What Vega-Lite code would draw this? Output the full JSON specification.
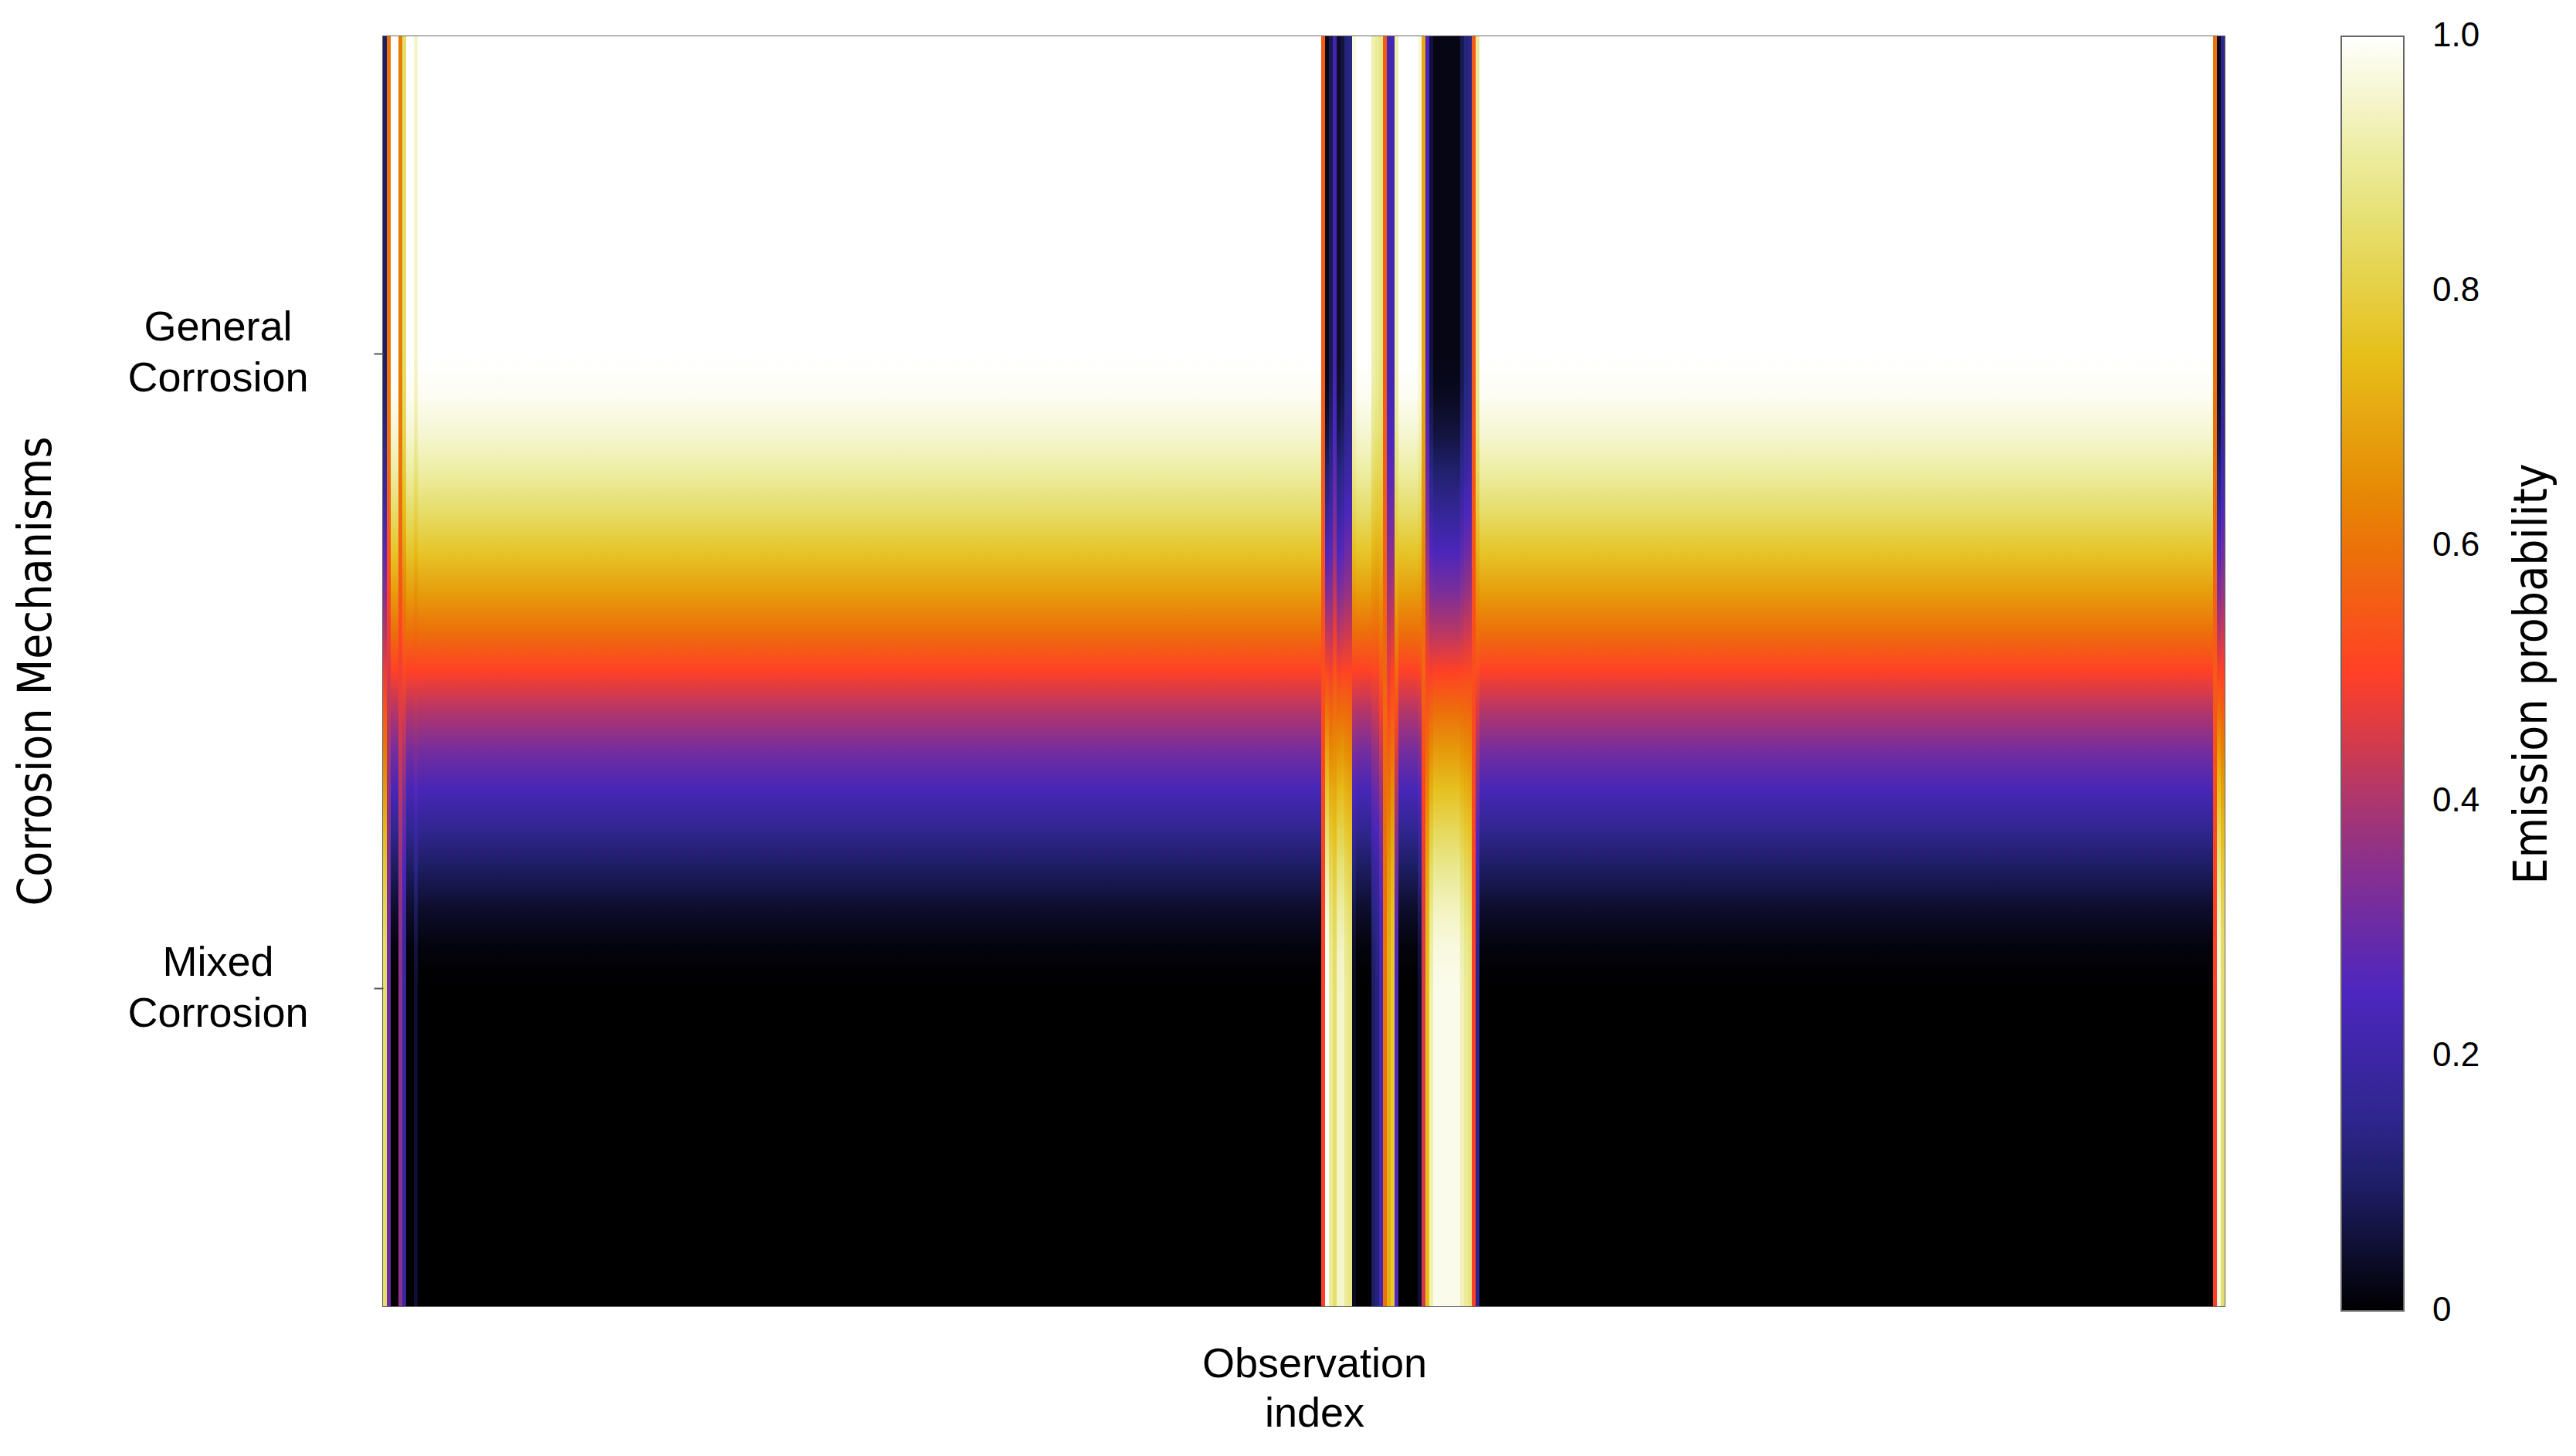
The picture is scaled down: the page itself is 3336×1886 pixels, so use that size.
{
"$schema": "https://vega.github.io/schema/vega-lite/v6.json",
"width": 2385,
"height": 1645,
"autosize": {"type": "none"},
"padding": {"left": 496, "top": 47, "right": 455, "bottom": 194},
"background": "white",
"config": {"view": {"stroke": "#666666", "strokeWidth": 2}, "font": "Liberation Sans", "legend": {"labelFlush": false}},
"data": {"values": [
{"i":0,"g":0.1,"m":0.85},{"i":1,"g":0.6,"m":0.3},{"i":2,"g":1,"m":0},{"i":3,"g":1,"m":0},{"i":4,"g":0.62,"m":0.35},{"i":5,"g":0.85,"m":0.18},{"i":6,"g":1,"m":0},{"i":7,"g":1,"m":0},{"i":8,"g":0.95,"m":0.05},{"i":9,"g":1,"m":0},
{"i":10,"g":1,"m":0},{"i":11,"g":1,"m":0},{"i":12,"g":1,"m":0},{"i":13,"g":1,"m":0},{"i":14,"g":1,"m":0},{"i":15,"g":1,"m":0},{"i":16,"g":1,"m":0},{"i":17,"g":1,"m":0},{"i":18,"g":1,"m":0},{"i":19,"g":1,"m":0},
{"i":20,"g":1,"m":0},{"i":21,"g":1,"m":0},{"i":22,"g":1,"m":0},{"i":23,"g":1,"m":0},{"i":24,"g":1,"m":0},{"i":25,"g":1,"m":0},{"i":26,"g":1,"m":0},{"i":27,"g":1,"m":0},{"i":28,"g":1,"m":0},{"i":29,"g":1,"m":0},
{"i":30,"g":1,"m":0},{"i":31,"g":1,"m":0},{"i":32,"g":1,"m":0},{"i":33,"g":1,"m":0},{"i":34,"g":1,"m":0},{"i":35,"g":1,"m":0},{"i":36,"g":1,"m":0},{"i":37,"g":1,"m":0},{"i":38,"g":1,"m":0},{"i":39,"g":1,"m":0},
{"i":40,"g":1,"m":0},{"i":41,"g":1,"m":0},{"i":42,"g":1,"m":0},{"i":43,"g":1,"m":0},{"i":44,"g":1,"m":0},{"i":45,"g":1,"m":0},{"i":46,"g":1,"m":0},{"i":47,"g":1,"m":0},{"i":48,"g":1,"m":0},{"i":49,"g":1,"m":0},
{"i":50,"g":1,"m":0},{"i":51,"g":1,"m":0},{"i":52,"g":1,"m":0},{"i":53,"g":1,"m":0},{"i":54,"g":1,"m":0},{"i":55,"g":1,"m":0},{"i":56,"g":1,"m":0},{"i":57,"g":1,"m":0},{"i":58,"g":1,"m":0},{"i":59,"g":1,"m":0},
{"i":60,"g":1,"m":0},{"i":61,"g":1,"m":0},{"i":62,"g":1,"m":0},{"i":63,"g":1,"m":0},{"i":64,"g":1,"m":0},{"i":65,"g":1,"m":0},{"i":66,"g":1,"m":0},{"i":67,"g":1,"m":0},{"i":68,"g":1,"m":0},{"i":69,"g":1,"m":0},
{"i":70,"g":1,"m":0},{"i":71,"g":1,"m":0},{"i":72,"g":1,"m":0},{"i":73,"g":1,"m":0},{"i":74,"g":1,"m":0},{"i":75,"g":1,"m":0},{"i":76,"g":1,"m":0},{"i":77,"g":1,"m":0},{"i":78,"g":1,"m":0},{"i":79,"g":1,"m":0},
{"i":80,"g":1,"m":0},{"i":81,"g":1,"m":0},{"i":82,"g":1,"m":0},{"i":83,"g":1,"m":0},{"i":84,"g":1,"m":0},{"i":85,"g":1,"m":0},{"i":86,"g":1,"m":0},{"i":87,"g":1,"m":0},{"i":88,"g":1,"m":0},{"i":89,"g":1,"m":0},
{"i":90,"g":1,"m":0},{"i":91,"g":1,"m":0},{"i":92,"g":1,"m":0},{"i":93,"g":1,"m":0},{"i":94,"g":1,"m":0},{"i":95,"g":1,"m":0},{"i":96,"g":1,"m":0},{"i":97,"g":1,"m":0},{"i":98,"g":1,"m":0},{"i":99,"g":1,"m":0},
{"i":100,"g":1,"m":0},{"i":101,"g":1,"m":0},{"i":102,"g":1,"m":0},{"i":103,"g":1,"m":0},{"i":104,"g":1,"m":0},{"i":105,"g":1,"m":0},{"i":106,"g":1,"m":0},{"i":107,"g":1,"m":0},{"i":108,"g":1,"m":0},{"i":109,"g":1,"m":0},
{"i":110,"g":1,"m":0},{"i":111,"g":1,"m":0},{"i":112,"g":1,"m":0},{"i":113,"g":1,"m":0},{"i":114,"g":1,"m":0},{"i":115,"g":1,"m":0},{"i":116,"g":1,"m":0},{"i":117,"g":1,"m":0},{"i":118,"g":1,"m":0},{"i":119,"g":1,"m":0},
{"i":120,"g":1,"m":0},{"i":121,"g":1,"m":0},{"i":122,"g":1,"m":0},{"i":123,"g":1,"m":0},{"i":124,"g":1,"m":0},{"i":125,"g":1,"m":0},{"i":126,"g":1,"m":0},{"i":127,"g":1,"m":0},{"i":128,"g":1,"m":0},{"i":129,"g":1,"m":0},
{"i":130,"g":1,"m":0},{"i":131,"g":1,"m":0},{"i":132,"g":1,"m":0},{"i":133,"g":1,"m":0},{"i":134,"g":1,"m":0},{"i":135,"g":1,"m":0},{"i":136,"g":1,"m":0},{"i":137,"g":1,"m":0},{"i":138,"g":1,"m":0},{"i":139,"g":1,"m":0},
{"i":140,"g":1,"m":0},{"i":141,"g":1,"m":0},{"i":142,"g":1,"m":0},{"i":143,"g":1,"m":0},{"i":144,"g":1,"m":0},{"i":145,"g":1,"m":0},{"i":146,"g":1,"m":0},{"i":147,"g":1,"m":0},{"i":148,"g":1,"m":0},{"i":149,"g":1,"m":0},
{"i":150,"g":1,"m":0},{"i":151,"g":1,"m":0},{"i":152,"g":1,"m":0},{"i":153,"g":1,"m":0},{"i":154,"g":1,"m":0},{"i":155,"g":1,"m":0},{"i":156,"g":1,"m":0},{"i":157,"g":1,"m":0},{"i":158,"g":1,"m":0},{"i":159,"g":1,"m":0},
{"i":160,"g":1,"m":0},{"i":161,"g":1,"m":0},{"i":162,"g":1,"m":0},{"i":163,"g":1,"m":0},{"i":164,"g":1,"m":0},{"i":165,"g":1,"m":0},{"i":166,"g":1,"m":0},{"i":167,"g":1,"m":0},{"i":168,"g":1,"m":0},{"i":169,"g":1,"m":0},
{"i":170,"g":1,"m":0},{"i":171,"g":1,"m":0},{"i":172,"g":1,"m":0},{"i":173,"g":1,"m":0},{"i":174,"g":1,"m":0},{"i":175,"g":1,"m":0},{"i":176,"g":1,"m":0},{"i":177,"g":1,"m":0},{"i":178,"g":1,"m":0},{"i":179,"g":1,"m":0},
{"i":180,"g":1,"m":0},{"i":181,"g":1,"m":0},{"i":182,"g":1,"m":0},{"i":183,"g":1,"m":0},{"i":184,"g":1,"m":0},{"i":185,"g":1,"m":0},{"i":186,"g":1,"m":0},{"i":187,"g":1,"m":0},{"i":188,"g":1,"m":0},{"i":189,"g":1,"m":0},
{"i":190,"g":1,"m":0},{"i":191,"g":1,"m":0},{"i":192,"g":1,"m":0},{"i":193,"g":1,"m":0},{"i":194,"g":1,"m":0},{"i":195,"g":1,"m":0},{"i":196,"g":1,"m":0},{"i":197,"g":1,"m":0},{"i":198,"g":1,"m":0},{"i":199,"g":1,"m":0},
{"i":200,"g":1,"m":0},{"i":201,"g":1,"m":0},{"i":202,"g":1,"m":0},{"i":203,"g":1,"m":0},{"i":204,"g":1,"m":0},{"i":205,"g":1,"m":0},{"i":206,"g":1,"m":0},{"i":207,"g":1,"m":0},{"i":208,"g":1,"m":0},{"i":209,"g":1,"m":0},
{"i":210,"g":1,"m":0},{"i":211,"g":1,"m":0},{"i":212,"g":1,"m":0},{"i":213,"g":1,"m":0},{"i":214,"g":1,"m":0},{"i":215,"g":1,"m":0},{"i":216,"g":1,"m":0},{"i":217,"g":1,"m":0},{"i":218,"g":1,"m":0},{"i":219,"g":1,"m":0},
{"i":220,"g":1,"m":0},{"i":221,"g":1,"m":0},{"i":222,"g":1,"m":0},{"i":223,"g":1,"m":0},{"i":224,"g":1,"m":0},{"i":225,"g":1,"m":0},{"i":226,"g":1,"m":0},{"i":227,"g":1,"m":0},{"i":228,"g":1,"m":0},{"i":229,"g":1,"m":0},
{"i":230,"g":1,"m":0},{"i":231,"g":1,"m":0},{"i":232,"g":1,"m":0},{"i":233,"g":1,"m":0},{"i":234,"g":1,"m":0},{"i":235,"g":1,"m":0},{"i":236,"g":1,"m":0},{"i":237,"g":1,"m":0},{"i":238,"g":1,"m":0},{"i":239,"g":1,"m":0},
{"i":240,"g":1,"m":0},{"i":241,"g":1,"m":0},{"i":242,"g":1,"m":0},{"i":243,"g":0.55,"m":0.5},{"i":244,"g":0.02,"m":1},{"i":245,"g":0.08,"m":0.9},{"i":246,"g":0.22,"m":0.85},{"i":247,"g":0.04,"m":0.95},{"i":248,"g":0.06,"m":0.95},{"i":249,"g":0.12,"m":0.9},
{"i":250,"g":0.13,"m":0.88},{"i":251,"g":0.97,"m":0.03},{"i":252,"g":1,"m":0},{"i":253,"g":1,"m":0},{"i":254,"g":1,"m":0},{"i":255,"g":1,"m":0},{"i":256,"g":0.92,"m":0.1},{"i":257,"g":0.9,"m":0.12},{"i":258,"g":0.88,"m":0.22},{"i":259,"g":0.55,"m":0.6},
{"i":260,"g":0.22,"m":0.72},{"i":261,"g":0.22,"m":0.78},{"i":262,"g":0.92,"m":0.25},{"i":263,"g":1,"m":0},{"i":264,"g":1,"m":0},{"i":265,"g":1,"m":0},{"i":266,"g":1,"m":0},{"i":267,"g":1,"m":0},{"i":268,"g":0.97,"m":0.05},{"i":269,"g":0.7,"m":0.45},
{"i":270,"g":0.25,"m":0.75},{"i":271,"g":0.06,"m":0.92},{"i":272,"g":0.02,"m":0.98},{"i":273,"g":0.02,"m":0.98},{"i":274,"g":0.02,"m":0.98},{"i":275,"g":0.02,"m":0.98},{"i":276,"g":0.02,"m":0.98},{"i":277,"g":0.02,"m":0.98},{"i":278,"g":0.02,"m":0.98},{"i":279,"g":0.08,"m":0.93},
{"i":280,"g":0.12,"m":0.9},{"i":281,"g":0.14,"m":0.88},{"i":282,"g":0.55,"m":0.5},{"i":283,"g":0.9,"m":0.15},{"i":284,"g":1,"m":0},{"i":285,"g":1,"m":0},{"i":286,"g":1,"m":0},{"i":287,"g":1,"m":0},{"i":288,"g":1,"m":0},{"i":289,"g":1,"m":0},
{"i":290,"g":1,"m":0},{"i":291,"g":1,"m":0},{"i":292,"g":1,"m":0},{"i":293,"g":1,"m":0},{"i":294,"g":1,"m":0},{"i":295,"g":1,"m":0},{"i":296,"g":1,"m":0},{"i":297,"g":1,"m":0},{"i":298,"g":1,"m":0},{"i":299,"g":1,"m":0},
{"i":300,"g":1,"m":0},{"i":301,"g":1,"m":0},{"i":302,"g":1,"m":0},{"i":303,"g":1,"m":0},{"i":304,"g":1,"m":0},{"i":305,"g":1,"m":0},{"i":306,"g":1,"m":0},{"i":307,"g":1,"m":0},{"i":308,"g":1,"m":0},{"i":309,"g":1,"m":0},
{"i":310,"g":1,"m":0},{"i":311,"g":1,"m":0},{"i":312,"g":1,"m":0},{"i":313,"g":1,"m":0},{"i":314,"g":1,"m":0},{"i":315,"g":1,"m":0},{"i":316,"g":1,"m":0},{"i":317,"g":1,"m":0},{"i":318,"g":1,"m":0},{"i":319,"g":1,"m":0},
{"i":320,"g":1,"m":0},{"i":321,"g":1,"m":0},{"i":322,"g":1,"m":0},{"i":323,"g":1,"m":0},{"i":324,"g":1,"m":0},{"i":325,"g":1,"m":0},{"i":326,"g":1,"m":0},{"i":327,"g":1,"m":0},{"i":328,"g":1,"m":0},{"i":329,"g":1,"m":0},
{"i":330,"g":1,"m":0},{"i":331,"g":1,"m":0},{"i":332,"g":1,"m":0},{"i":333,"g":1,"m":0},{"i":334,"g":1,"m":0},{"i":335,"g":1,"m":0},{"i":336,"g":1,"m":0},{"i":337,"g":1,"m":0},{"i":338,"g":1,"m":0},{"i":339,"g":1,"m":0},
{"i":340,"g":1,"m":0},{"i":341,"g":1,"m":0},{"i":342,"g":1,"m":0},{"i":343,"g":1,"m":0},{"i":344,"g":1,"m":0},{"i":345,"g":1,"m":0},{"i":346,"g":1,"m":0},{"i":347,"g":1,"m":0},{"i":348,"g":1,"m":0},{"i":349,"g":1,"m":0},
{"i":350,"g":1,"m":0},{"i":351,"g":1,"m":0},{"i":352,"g":1,"m":0},{"i":353,"g":1,"m":0},{"i":354,"g":1,"m":0},{"i":355,"g":1,"m":0},{"i":356,"g":1,"m":0},{"i":357,"g":1,"m":0},{"i":358,"g":1,"m":0},{"i":359,"g":1,"m":0},
{"i":360,"g":1,"m":0},{"i":361,"g":1,"m":0},{"i":362,"g":1,"m":0},{"i":363,"g":1,"m":0},{"i":364,"g":1,"m":0},{"i":365,"g":1,"m":0},{"i":366,"g":1,"m":0},{"i":367,"g":1,"m":0},{"i":368,"g":1,"m":0},{"i":369,"g":1,"m":0},
{"i":370,"g":1,"m":0},{"i":371,"g":1,"m":0},{"i":372,"g":1,"m":0},{"i":373,"g":1,"m":0},{"i":374,"g":1,"m":0},{"i":375,"g":1,"m":0},{"i":376,"g":1,"m":0},{"i":377,"g":1,"m":0},{"i":378,"g":1,"m":0},{"i":379,"g":1,"m":0},
{"i":380,"g":1,"m":0},{"i":381,"g":1,"m":0},{"i":382,"g":1,"m":0},{"i":383,"g":1,"m":0},{"i":384,"g":1,"m":0},{"i":385,"g":1,"m":0},{"i":386,"g":1,"m":0},{"i":387,"g":1,"m":0},{"i":388,"g":1,"m":0},{"i":389,"g":1,"m":0},
{"i":390,"g":1,"m":0},{"i":391,"g":1,"m":0},{"i":392,"g":1,"m":0},{"i":393,"g":1,"m":0},{"i":394,"g":1,"m":0},{"i":395,"g":1,"m":0},{"i":396,"g":1,"m":0},{"i":397,"g":1,"m":0},{"i":398,"g":1,"m":0},{"i":399,"g":1,"m":0},
{"i":400,"g":1,"m":0},{"i":401,"g":1,"m":0},{"i":402,"g":1,"m":0},{"i":403,"g":1,"m":0},{"i":404,"g":1,"m":0},{"i":405,"g":1,"m":0},{"i":406,"g":1,"m":0},{"i":407,"g":1,"m":0},{"i":408,"g":1,"m":0},{"i":409,"g":1,"m":0},
{"i":410,"g":1,"m":0},{"i":411,"g":1,"m":0},{"i":412,"g":1,"m":0},{"i":413,"g":1,"m":0},{"i":414,"g":1,"m":0},{"i":415,"g":1,"m":0},{"i":416,"g":1,"m":0},{"i":417,"g":1,"m":0},{"i":418,"g":1,"m":0},{"i":419,"g":1,"m":0},
{"i":420,"g":1,"m":0},{"i":421,"g":1,"m":0},{"i":422,"g":1,"m":0},{"i":423,"g":1,"m":0},{"i":424,"g":1,"m":0},{"i":425,"g":1,"m":0},{"i":426,"g":1,"m":0},{"i":427,"g":1,"m":0},{"i":428,"g":1,"m":0},{"i":429,"g":1,"m":0},
{"i":430,"g":1,"m":0},{"i":431,"g":1,"m":0},{"i":432,"g":1,"m":0},{"i":433,"g":1,"m":0},{"i":434,"g":1,"m":0},{"i":435,"g":1,"m":0},{"i":436,"g":1,"m":0},{"i":437,"g":1,"m":0},{"i":438,"g":1,"m":0},{"i":439,"g":1,"m":0},
{"i":440,"g":1,"m":0},{"i":441,"g":1,"m":0},{"i":442,"g":1,"m":0},{"i":443,"g":1,"m":0},{"i":444,"g":1,"m":0},{"i":445,"g":1,"m":0},{"i":446,"g":1,"m":0},{"i":447,"g":1,"m":0},{"i":448,"g":1,"m":0},{"i":449,"g":1,"m":0},
{"i":450,"g":1,"m":0},{"i":451,"g":1,"m":0},{"i":452,"g":1,"m":0},{"i":453,"g":1,"m":0},{"i":454,"g":1,"m":0},{"i":455,"g":1,"m":0},{"i":456,"g":1,"m":0},{"i":457,"g":1,"m":0},{"i":458,"g":1,"m":0},{"i":459,"g":1,"m":0},
{"i":460,"g":1,"m":0},{"i":461,"g":1,"m":0},{"i":462,"g":1,"m":0},{"i":463,"g":1,"m":0},{"i":464,"g":1,"m":0},{"i":465,"g":1,"m":0},{"i":466,"g":1,"m":0},{"i":467,"g":1,"m":0},{"i":468,"g":1,"m":0},{"i":469,"g":1,"m":0},
{"i":470,"g":1,"m":0},{"i":471,"g":1,"m":0},{"i":472,"g":1,"m":0},{"i":473,"g":1,"m":0},{"i":474,"g":0.6,"m":0.5},{"i":475,"g":0.03,"m":0.97},{"i":476,"g":0.15,"m":0.85}
]},
"encoding": {
  "x": {"field": "i", "type": "ordinal", "scale": {"paddingInner": 0, "paddingOuter": 0},
    "axis": {"labels": false, "ticks": false, "domain": false, "grid": false,
      "title": ["Observation", "index"], "titleFont": "Liberation Sans", "titleFontSize": 54, "titleFontWeight": "normal", "titleColor": "black",
      "titleX": 1206, "titleY": 91, "titleAlign": "center", "titleBaseline": "alphabetic", "titleLineHeight": 64, "titleLimit": 0}}
},
"layer": [
  {
    "transform": [{"fold": ["g", "m"], "as": ["mech", "p"]}],
    "mark": {"type": "rect"},
    "encoding": {
      "y": {"field": "mech", "type": "nominal", "sort": ["g", "m"], "scale": {"paddingInner": 0, "paddingOuter": 0},
        "axis": {"title": "Corrosion Mechanisms", "titleFont": "Liberation Sans Narrow, DejaVu Sans Condensed, Liberation Sans", "titleFontSize": 60, "titleFontWeight": "normal", "titleColor": "black",
          "titleAngle": 270, "titleX": -449, "titleY": 822, "titleAlign": "center", "titleBaseline": "middle", "titleLimit": 0,
          "labelExpr": "datum.value == 'g' ? ['General', 'Corrosion'] : ['Mixed', 'Corrosion']",
          "labelAlign": "center", "labelBaseline": "middle", "labelPadding": 202, "labelOffset": -33, "labelFont": "Liberation Sans", "labelFontSize": 54, "labelLineHeight": 66, "labelColor": "black", "labelLimit": 0,
          "tickSize": 12, "tickColor": "#555555", "tickWidth": 2, "domain": false, "grid": false}},
      "color": {"field": "p", "type": "quantitative",
        "scale": {"domain": [0, 0.125, 0.25, 0.375, 0.5, 0.625, 0.75, 0.875, 1],
          "range": ["#000000", "#262680", "#4d26bf", "#993380", "#ff4026", "#e68000", "#e6bf1a", "#e6e680", "#ffffff"], "interpolate": "rgb"},
        "legend": {"orient": "none", "legendX": 2536, "legendY": 0, "direction": "vertical", "padding": 0,
          "gradientLength": 1651, "gradientThickness": 81, "gradientStrokeColor": "#666666", "gradientStrokeWidth": 2,
          "values": [0, 0.2, 0.4, 0.6, 0.8, 1], "labelExpr": "datum.value == 0 ? '0' : format(datum.value, '.1f')",
          "labelFont": "Liberation Sans", "labelFontSize": 44, "labelOffset": 37, "labelColor": "black", "labelLimit": 0,
          "title": "Emission probability", "titleOrient": "right", "titleFont": "Liberation Sans Narrow, DejaVu Sans Condensed, Liberation Sans",
          "titleFontSize": 60, "titleFontWeight": "normal", "titleColor": "black", "titleAnchor": "middle", "titlePadding": 40, "titleLimit": 0,
          "encode": {"title": {"update": {"angle": {"value": 270}, "baseline": {"value": "top"}}},
                     "labels": {"update": {"baseline": {"value": "middle"}}}}}}
    }
  },
  {
    "mark": {"type": "rect"},
    "encoding": {
      "color": {"value": {"expr": "{'gradient':'linear','x1':0,'y1':0,'x2':0,'y2':1,'stops':[{'offset':0,'color':scale('color',datum.g)},{'offset':0.25,'color':scale('color',datum.g)},{'offset':0.28125,'color':scale('color',datum.g+(datum.m-datum.g)*0.01123)},{'offset':0.3125,'color':scale('color',datum.g+(datum.m-datum.g)*0.04297)},{'offset':0.34375,'color':scale('color',datum.g+(datum.m-datum.g)*0.09229)},{'offset':0.375,'color':scale('color',datum.g+(datum.m-datum.g)*0.15625)},{'offset':0.40625,'color':scale('color',datum.g+(datum.m-datum.g)*0.23193)},{'offset':0.4375,'color':scale('color',datum.g+(datum.m-datum.g)*0.31641)},{'offset':0.46875,'color':scale('color',datum.g+(datum.m-datum.g)*0.40674)},{'offset':0.5,'color':scale('color',datum.g+(datum.m-datum.g)*0.5)},{'offset':0.53125,'color':scale('color',datum.g+(datum.m-datum.g)*0.59326)},{'offset':0.5625,'color':scale('color',datum.g+(datum.m-datum.g)*0.68359)},{'offset':0.59375,'color':scale('color',datum.g+(datum.m-datum.g)*0.76807)},{'offset':0.625,'color':scale('color',datum.g+(datum.m-datum.g)*0.84375)},{'offset':0.65625,'color':scale('color',datum.g+(datum.m-datum.g)*0.90771)},{'offset':0.6875,'color':scale('color',datum.g+(datum.m-datum.g)*0.95703)},{'offset':0.71875,'color':scale('color',datum.g+(datum.m-datum.g)*0.98877)},{'offset':0.75,'color':scale('color',datum.m)},{'offset':1,'color':scale('color',datum.m)}]}"}}
    }
  }
]
}
